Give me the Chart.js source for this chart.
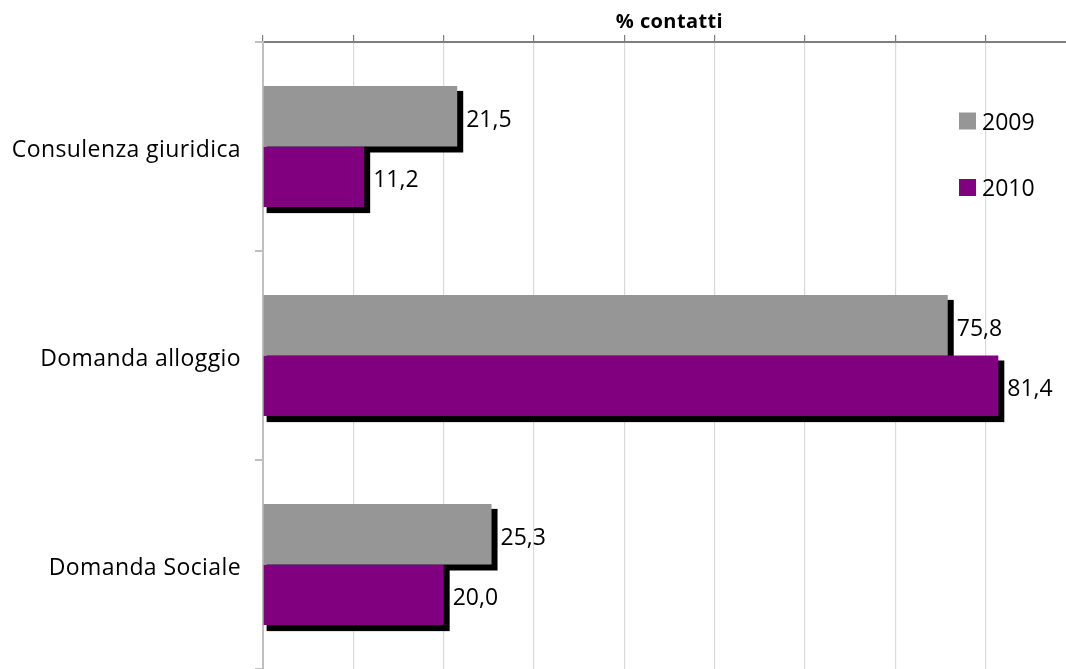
<!DOCTYPE html>
<html><head><meta charset="utf-8">
<script src="https://cdn.jsdelivr.net/npm/chart.js@4.4.1/dist/chart.umd.min.js"></script>
<style>html,body{margin:0;padding:0;background:#fff;overflow:hidden}#wrap{width:1076px;height:669px;position:relative}</style>
</head><body><div id="wrap"><canvas id="c"></canvas></div>
<script>
const categories = ['Consulenza giuridica', 'Domanda alloggio', 'Domanda Sociale'];
const seriesNames = ['2009', '2010'];
const values2009 = [21.5, 75.8, 25.3];
const values2010 = [11.2, 81.4, 20.0];
const axisTitle = '% contatti';
const xMin = 0, xMax = 90, xStep = 10;
const colors = ['#969696', '#800080'];
const FONT = 'Open Sans';

const fmt = v => v.toFixed(1).replace('.', ',');

const decorPlugin = {
  id: 'decor',
  beforeDraw(chart) {
    chart.ctx.letterSpacing = '0.4px';
  },
  beforeDatasetsDraw(chart) {
    const ctx = chart.ctx;
    ctx.save();
    ctx.fillStyle = '#000';
    chart.data.datasets.forEach((ds, i) => {
      const meta = chart.getDatasetMeta(i);
      meta.data.forEach(bar => {
        const p = bar.getProps(['x', 'y', 'base', 'height'], true);
        const l = Math.min(p.x, p.base), r = Math.max(p.x, p.base);
        const t = p.y - p.height / 2, b = p.y + p.height / 2;
        ctx.fillRect(l + 3, t + 5, r - l + 3, b - t + 1);
      });
    });
    ctx.restore();
  },
  afterDatasetsDraw(chart) {
    const ctx = chart.ctx;
    ctx.save();
    ctx.letterSpacing = '0px';
    ctx.font = `23px "${FONT}"`;
    ctx.fillStyle = '#000';
    ctx.textBaseline = 'middle';
    ctx.textAlign = 'left';
    chart.data.datasets.forEach((ds, i) => {
      const meta = chart.getDatasetMeta(i);
      meta.data.forEach((bar, j) => {
        const p = bar.getProps(['x', 'y'], true);
        ctx.fillText(fmt(ds.data[j]), p.x + 9, p.y + 4);
      });
    });
    // legend
    const ca = chart.chartArea;
    const lx = ca.right - 117;
    const ly = [121, 187.5];
    chart.data.datasets.forEach((ds, i) => {
      ctx.fillStyle = ds.backgroundColor;
      ctx.fillRect(lx, ly[i] - 8.5, 17, 17);
      ctx.fillStyle = '#000';
      ctx.fillText(ds.label, lx + 23, ly[i] + 2);
    });
    ctx.restore();
  }
};

new Chart(document.getElementById('c'), {
  type: 'bar',
  data: {
    labels: categories,
    datasets: [
      { label: seriesNames[0], data: values2009, backgroundColor: colors[0] },
      { label: seriesNames[1], data: values2010, backgroundColor: colors[1] }
    ]
  },
  options: {
    indexAxis: 'y',
    responsive: true,
    maintainAspectRatio: false,
    animation: false,
    devicePixelRatio: 1,
    categoryPercentage: 0.58,
    barPercentage: 1.0,
    layout: { padding: { left: 0, right: 0, top: 0, bottom: 0 } },
    plugins: { legend: { display: false }, tooltip: { enabled: false } },
    scales: {
      x: {
        position: 'top',
        min: xMin, max: xMax,
        ticks: { display: false, stepSize: xStep },
        grid: { color: '#d9d9d9', lineWidth: 1.2, tickLength: 7, tickColor: '#7f7f7f', tickWidth: 1.2 },
        border: { color: '#7f7f7f', width: 2 },
        title: { display: true, text: axisTitle, color: '#000', font: { family: FONT, size: 20, weight: 'bold' }, padding: { top: 10, bottom: 0 } },
        afterFit: s => { s.height = 42; s.paddingLeft = 0; s.paddingRight = 0; }
      },
      y: {
        ticks: { color: '#000', font: { family: FONT, size: 23 }, padding: 14, labelOffset: 4 },
        grid: { drawOnChartArea: false, color: '#bfbfbf', tickLength: 8, lineWidth: 2 },
        border: { color: '#bfbfbf', width: 2 },
        afterFit: s => { s.width = 263; s.paddingTop = 0; s.paddingBottom = 0; }
      }
    }
  },
  plugins: [decorPlugin]
});
</script>
</body></html>
